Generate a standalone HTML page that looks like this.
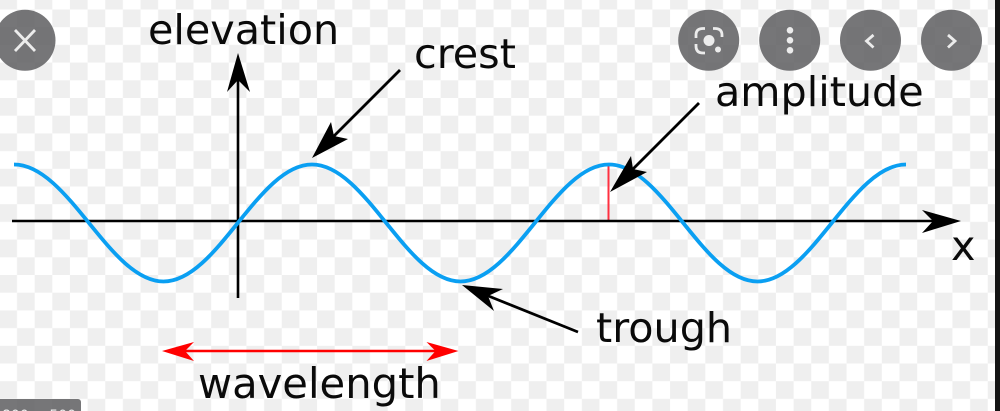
<!DOCTYPE html>
<html>
<head>
<meta charset="utf-8">
<style>
html,body{margin:0;padding:0;width:1000px;height:411px;overflow:hidden;background:#fff}
svg{display:block;position:absolute;left:0;top:0}
text{font-family:"DejaVu Sans",sans-serif;font-size:41.3px;fill:#0a0a0a}
</style>
</head>
<body>
<svg width="1000" height="411" viewBox="0 0 1000 411" xmlns="http://www.w3.org/2000/svg">
<defs>
<pattern id="c" patternUnits="userSpaceOnUse" x="-0.65" y="-8.2" width="35.3" height="35.4">
<rect width="35.3" height="35.4" fill="#fff"/>
<rect x="0" y="0" width="17.65" height="17.7" fill="#efefef"/>
<rect x="17.65" y="17.7" width="17.65" height="17.7" fill="#efefef"/>
</pattern>
</defs>
<rect width="1000" height="411" fill="url(#c)"/>
<g style="filter:blur(.35px)">
<line x1="608.5" y1="166" x2="608.5" y2="221" stroke="#ff3040" stroke-width="2"/>
<line x1="12" y1="221" x2="935" y2="221" stroke="#000" stroke-width="2.6"/>
<polygon points="961,221 922,210 933,221 922,233" fill="#000"/>
<line x1="238" y1="298" x2="238" y2="78" stroke="#000" stroke-width="2.6"/>
<polygon points="238,53 227,92 238,80 250,92" fill="#000"/>
<path d="M14 164.5 C68.5 164.5 109.5 281.5 163.5 281.5 S258 164.5 312 164.5 S406.5 281.5 460.5 281.5 S555 164.5 609 164.5 S703.5 281.5 757.5 281.5 S852 164.5 906 164.5" fill="none" stroke="#0a9ff2" stroke-width="3.8"/>
<line x1="400" y1="70" x2="332" y2="138" stroke="#000" stroke-width="2.8"/>
<polygon points="312,158 331,122 334,136 348,139" fill="#000"/>
<line x1="699" y1="103" x2="631" y2="171" stroke="#000" stroke-width="2.8"/>
<polygon points="610,192 631,156 633,169 647,172" fill="#000"/>
<line x1="578" y1="332" x2="486" y2="295" stroke="#000" stroke-width="2.8"/>
<polygon points="462,285 503,289 488,296 494,311" fill="#000"/>
<line x1="183" y1="351" x2="437" y2="351" stroke="#f00" stroke-width="2.6"/>
<polygon points="162,351 194,342 185,351 194,361" fill="#f00"/>
<polygon points="458.5,351 426.5,342 435.5,351 426.5,361" fill="#f00"/>
<text x="148" y="44">elevation</text>
<text x="414" y="68">crest</text>
<text x="715" y="106">amplitude</text>
<text x="951" y="260">x</text>
<text x="596" y="342">trough</text>
<text x="198" y="398" style="font-size:41.7px">wavelength</text>
</g>
<g fill="#5f6062" fill-opacity=".86">
<circle cx="25" cy="40.3" r="30.5"/>
<circle cx="708.7" cy="40.3" r="30.5"/>
<circle cx="789.7" cy="40.3" r="30.5"/>
<circle cx="870.5" cy="40.3" r="30.5"/>
<circle cx="951.5" cy="40.3" r="30.5"/>
<rect x="-5" y="399" width="86" height="20" rx="3"/>
</g>
<g fill="none" stroke="#ececec" stroke-width="2.8">
<path d="M15 30 L35 51 M35 30 L15 51"/>
<path d="M696 38 V35 Q696 28.5 703 28.5 H705"/>
<path d="M713 28.5 H715 Q722 28.5 722 35 V37"/>
<path d="M696 44 V46 Q696 53 703 53 H705"/>
<path d="M873.5 35 L866.5 41 L873.5 47.5"/>
<path d="M948 35 L955 41 L948 47.5"/>
</g>
<g fill="#ececec">
<circle cx="709" cy="40.5" r="5.5"/>
<circle cx="718" cy="49.5" r="3"/>
<circle cx="790" cy="30.3" r="3.3"/>
<circle cx="790" cy="40.3" r="3.3"/>
<circle cx="790" cy="50.3" r="3.3"/>
</g>
<text x="2" y="420" style="font-size:14px;fill:#f0f0f0">800 × 500</text>
<rect x="995" y="0" width="5" height="411" fill="#141414"/>
</svg>
</body>
</html>
